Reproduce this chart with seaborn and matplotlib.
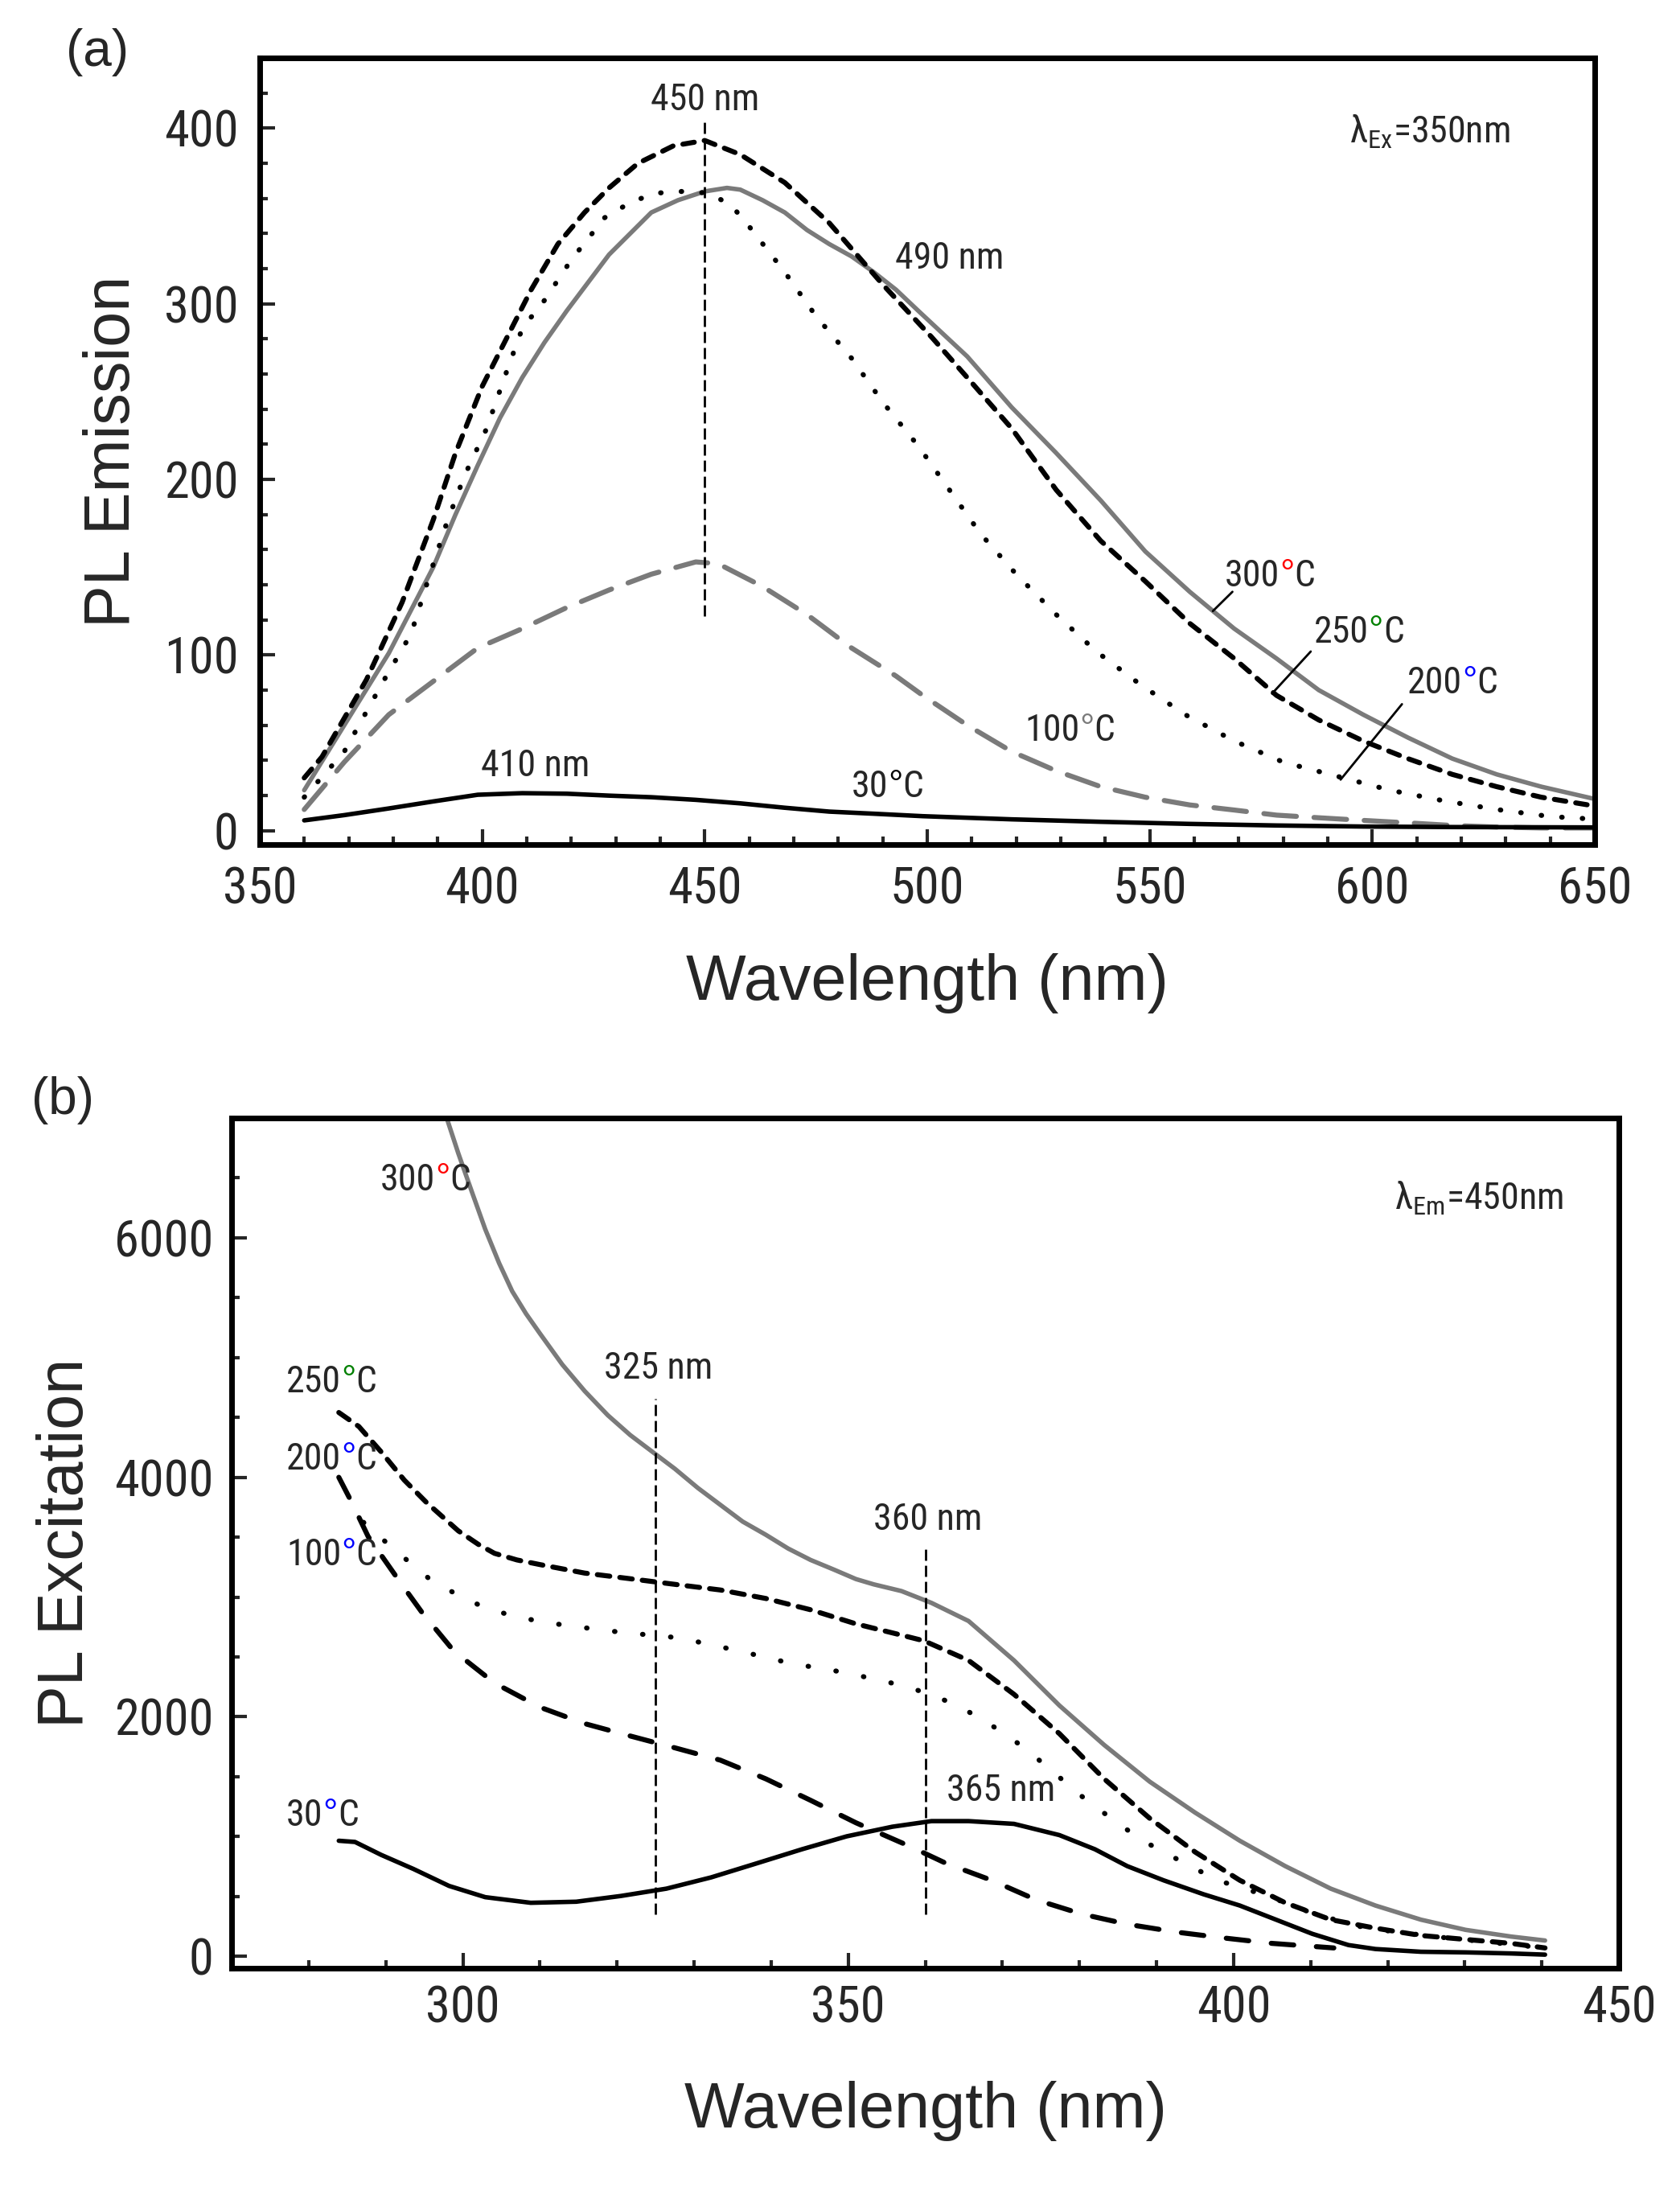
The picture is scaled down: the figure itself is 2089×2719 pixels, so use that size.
import os
import numpy as np
import matplotlib
matplotlib.use("Agg")
import matplotlib.pyplot as plt
from matplotlib import font_manager as fm
from matplotlib.textpath import text_to_path
import seaborn as sns

# ---- panel (a): PL emission, excitation 350 nm ----
em300_x = [360, 369, 379, 389, 394, 399, 404, 409, 414, 419, 428.5, 438, 444, 450, 455, 458,
           463, 468, 473, 478, 483, 488, 493, 498, 509, 519, 529, 539, 549, 559, 569,
           578.5, 588, 598, 608, 618, 628, 638, 650]
em300_y = [23, 60, 101, 150, 180, 208, 235, 258, 278, 296, 328, 352, 359, 364, 366, 365,
           359, 352, 342, 334, 327, 318, 308, 296, 270, 241, 215, 188, 159, 136, 115,
           98, 80, 66, 53, 41, 32, 25, 18]

em250_x = [360, 364, 374, 382, 389, 394, 400, 406, 411, 417, 423, 428.5, 435, 443, 450, 458,
           468, 478, 490, 501, 509, 519, 529, 539, 549, 559, 569, 578.5, 588, 598, 608, 618,
           628, 638, 650]
em250_y = [30, 42, 86, 130, 177, 215, 253, 283, 308, 334, 352, 366, 380, 390, 393, 385,
           369, 346, 311, 281, 258, 229, 194, 165, 142, 118, 98, 77, 63, 51, 41, 32,
           25, 19, 14]

em200_x = [360, 369, 378, 384, 388, 392, 396, 401, 405, 409, 414, 420, 427.5, 433.5, 439, 445,
           451, 456, 460, 464, 468, 475, 483, 490, 498, 505, 512, 520, 529, 538, 548, 558,
           569, 580, 592, 604, 616, 628, 640, 650]
em200_y = [19, 45, 86, 112, 144, 175, 202, 229, 258, 286, 302, 325, 349, 358, 363, 364,
           363, 356, 344, 331, 318, 293, 269, 244, 219, 194, 169, 146, 123, 102, 83, 66,
           51, 39, 31, 23, 17, 12, 8, 6.5]

em100_x = [360, 369, 379, 389, 399, 409, 419, 428.5, 438, 448, 453, 463, 473, 483, 493, 499,
           509, 519, 529, 539, 549, 559, 569, 578.5, 588, 598, 608, 618, 628, 638, 650]
em100_y = [12, 39, 66, 85, 104, 115, 127, 137, 146, 153, 152, 139, 123, 104, 88, 77,
           60, 45, 34, 25, 19, 14.6, 11.7, 8.8, 7.3, 5.8, 4.4, 2.9, 2, 1.5, 1.5]

em30_x = [360, 369, 379, 389, 399, 409, 419, 428.5, 438, 448, 458, 468, 478, 488, 499, 519,
          539, 559, 578.5, 598, 618, 650]
em30_y = [5.8, 8.8, 12.6, 16.6, 20.4, 21.3, 21, 19.9, 19, 17.5, 15.5, 13, 10.8, 9.6, 8.2, 6.4,
          5, 3.8, 2.9, 2.3, 2, 1.8]

# ---- panel (b): PL excitation, emission 450 nm ----
ex300_x = [297.9, 299.4, 301.2, 302.9, 304.7, 306.4, 308.2, 310, 312.9, 315.8, 318.8, 321.7,
           324.6, 327.5, 330.5, 333.4, 336.3, 339.3, 342.2, 345.1, 348.1, 351, 353.3, 356.9,
           360.8, 365.6, 371.5, 377.4, 383.2, 389.1, 395, 400.8, 406.7, 412.6, 418.4, 424.3,
           430.1, 436, 440.4]
ex300_y = [7000, 6706, 6377, 6071, 5788, 5553, 5365, 5200, 4941, 4720, 4518, 4353,
           4212, 4071, 3910, 3770, 3630, 3520, 3405, 3310, 3230, 3150, 3106, 3050,
           2951, 2800, 2471, 2094, 1765, 1459, 1200, 965, 753, 565, 424, 306,
           221, 165, 132]

ex250_x = [283.9, 286.5, 289.4, 292.4, 295.3, 299.4, 302, 304.1, 307, 310, 315.8, 321.7,
           327.5, 333.4, 339.3, 345.1, 351, 356.9, 359.8, 365.6, 371.5, 377.4, 383.2, 389.1,
           395, 400.8, 406.7, 412.6, 418.4, 424.3, 430.1, 436, 440.4]
ex250_y = [4541, 4424, 4212, 3976, 3788, 3553, 3440, 3365, 3310, 3271, 3200, 3153,
           3106, 3059, 2988, 2894, 2776, 2682, 2635, 2471, 2188, 1859, 1482, 1153,
           871, 635, 447, 306, 235, 174, 141, 108, 70]

ex200_x = [283.9, 285.6, 287.7, 291.8, 294.7, 298.8, 304.1, 310, 315.8, 321.7, 327.5, 333.4,
           339.3, 345.1, 351, 358, 362.7, 368.6, 374.4, 380.3, 386.2, 392.6, 398.5, 405, 413]
ex200_y = [4000, 3788, 3506, 3129, 2871, 2551, 2282, 2080, 1943, 1840, 1741, 1638,
           1482, 1303, 1115, 918, 776, 635, 471, 353, 268, 202, 155, 108, 70]

ex100_x = [287.1, 290, 293, 295.9, 299.1, 302.6, 306.2, 309.7, 313.5, 320.5, 328.1, 335.5,
           342.5, 349.8, 357.2, 360.6, 364.2, 367.4, 370.3, 373.3, 375.9, 378.5, 381.5, 384.7,
           387.6, 390.9, 394.4, 397.9, 401.4, 404.9, 408.4, 412, 415.5, 419, 426, 433.1, 440.4]
ex100_y = [3624, 3459, 3294, 3139, 3026, 2918, 2847, 2800, 2762, 2706, 2659, 2555,
           2447, 2367, 2259, 2188, 2094, 1976, 1859, 1718, 1576, 1435, 1271, 1129,
           988, 871, 753, 635, 565, 494, 400, 329, 259, 221, 165, 118, 70]

ex30_x = [283.9, 286, 289.4, 293.6, 298.2, 302.9, 308.8, 314.7, 320.5, 326.4, 332.2, 338.1,
          344, 349.8, 355.7, 360.8, 365.6, 371.5, 377.4, 382, 386.2, 390.9, 396.1, 400.8,
          405.5, 410.2, 414.9, 418.4, 424.3, 430.1, 436, 440.4]
ex30_y = [965, 955, 847, 729, 588, 494, 447, 456, 504, 565, 659, 776,
          894, 1002, 1082, 1129, 1129, 1106, 1012, 894, 753, 635, 518, 424,
          306, 188, 94, 61, 38, 33, 24, 14]

GREY = "#7a7a7a"
FS_LAB = 57

sns.set_style("ticks")
plt.rcParams["font.family"] = ["Liberation Sans", "DejaVu Sans"]


def find_narrow():
    # the original uses an Arial Narrow look; take a narrow/condensed face if one exists
    prefs = ["liberationsansnarrow-regular", "liberationsansnarrow", "arialnarrow", "arialn.",
             "robotocondensed-regular", "notosans-condensed.", "opensans_condensed-regular",
             "dejavusanscondensed."]
    files = [f.fname for f in fm.fontManager.ttflist]
    for p in prefs:
        for fn in files:
            base = os.path.basename(fn).lower().replace(" ", "")
            if base.startswith(p):
                return fn
    return None


NARROW_FILE = find_narrow()
if NARROW_FILE:
    FS_TICK, FS_ANN = 45, 33
else:
    FS_TICK, FS_ANN = 41, 28


def fprop(size):
    if NARROW_FILE:
        return fm.FontProperties(fname=NARROW_FILE, size=size)
    return fm.FontProperties(family="Liberation Sans", size=size)


ANN = fprop(FS_ANN)
RING = fm.FontProperties(family="Liberation Sans", size=FS_ANN)

fig = plt.figure(figsize=(20.89, 27.19), dpi=100)
ax1 = fig.add_axes([0.1546, 0.6138, 0.7946, 0.3597])
ax2 = fig.add_axes([0.1379, 0.1000, 0.8258, 0.3888])


def curve(ax, x, y, color, style, lw=4.5):
    sns.lineplot(x=x, y=y, ax=ax, color=color, lw=lw, linestyle=style,
                 sort=False, estimator=None, dash_capstyle="round")


def note(ax, x, y, s):
    ax.text(x, y, s, ha="center", va="center", fontproperties=ANN)


def temp_label(ax, x, y, num, ring, ha="center"):
    w_num = text_to_path.get_text_width_height_descent(num + "C", ANN, ismath=False)[0]
    w_ring = text_to_path.get_text_width_height_descent("°", RING, ismath=False)[0]
    off = -(w_num + w_ring) / 2 if ha == "center" else 0
    a = ax.annotate(num, xy=(x, y), xytext=(off, 0), textcoords="offset points",
                    ha="left", va="center", fontproperties=ANN)
    b = ax.annotate("°", xy=(1, 0), xycoords=a, ha="left", va="bottom", color=ring,
                    fontproperties=RING)
    ax.annotate("C", xy=(1, 0), xycoords=b, ha="left", va="bottom", fontproperties=ANN)


def style_axes(ax, ylab, xlab_y, ylab_x):
    for sp in ax.spines.values():
        sp.set_visible(True)
        sp.set_linewidth(5)
        sp.set_color("black")
    ax.tick_params(which="both", direction="in", top=False, right=False, width=3)
    ax.tick_params(which="major", length=14)
    ax.tick_params(which="minor", length=7)
    for lab in ax.get_xticklabels() + ax.get_yticklabels():
        lab.set_fontproperties(fprop(FS_TICK))
    ax.set_xlabel("Wavelength (nm)", fontsize=FS_LAB)
    ax.set_ylabel(ylab, fontsize=FS_LAB)
    ax.xaxis.set_label_coords(0.5, xlab_y)
    ax.xaxis.label.set_va("center")
    ax.yaxis.set_label_coords(ylab_x, 0.5)
    ax.yaxis.label.set_va("center")


vdash = (0, (5, 2.2))

# ---- draw panel (a) ----
curve(ax1, em300_x, em300_y, GREY, "-", 4)
curve(ax1, em250_x, em250_y, "black", (0, (2.3, 2.0)))
curve(ax1, em200_x, em200_y, "black", (0, (0.1, 4.0)))
curve(ax1, em100_x, em100_y, GREY, (0, (6.5, 3.5)))
curve(ax1, em30_x, em30_y, "black", "-", 4)

ax1.plot([450, 450], [122, 405], color="black", lw=2, linestyle=vdash)
note(ax1, 450, 416, "450 nm")
note(ax1, 505, 326, "490 nm")
note(ax1, 412, 37, "410 nm")
temp_label(ax1, 491, 25, "30", "black")
temp_label(ax1, 532, 57, "100", GREY)
temp_label(ax1, 577, 145, "300", "red")
temp_label(ax1, 597, 113, "250", "green")
temp_label(ax1, 618, 84, "200", "blue")
ax1.plot([568.6, 564.2], [136, 125], color="black", lw=2)
ax1.plot([586.2, 577.5], [102, 78], color="black", lw=2)
ax1.plot([606.7, 592.9], [72, 29], color="black", lw=2)
note(ax1, 613, 398, "$\\mathregular{λ_{Ex}}$=350nm")

ax1.set_xlim(350, 650)
ax1.set_ylim(-8, 440)
ax1.set_xticks(np.arange(350, 651, 50))
ax1.set_xticks(np.arange(350, 651, 10), minor=True)
ax1.set_yticks(np.arange(0, 401, 100))
ax1.set_yticks(np.arange(0, 441, 20), minor=True)
ax1.tick_params(axis="x", pad=19)
ax1.tick_params(axis="y", pad=19)
style_axes(ax1, "PL Emission", -0.176, -0.11)

# ---- draw panel (b) ----
curve(ax2, ex300_x, ex300_y, GREY, "-", 4)
curve(ax2, ex250_x, ex250_y, "black", (0, (2.5, 2.0)))
curve(ax2, ex200_x, ex200_y, "black", (0, (4.5, 4.5)))
curve(ax2, ex100_x, ex100_y, "black", (0, (0.1, 5.5)))
curve(ax2, ex30_x, ex30_y, "black", "-", 4)

ax2.plot([325, 325], [353, 4659], color="black", lw=2, linestyle=vdash)
ax2.plot([360, 360], [353, 3435], color="black", lw=2, linestyle=vdash)
note(ax2, 325.4, 4908, "325 nm")
note(ax2, 360.3, 3647, "360 nm")
note(ax2, 369.8, 1388, "365 nm")
temp_label(ax2, 295.1, 6480, "300", "red")
temp_label(ax2, 277.1, 4800, "250", "green", ha="left")
temp_label(ax2, 277.1, 4155, "200", "blue", ha="left")
temp_label(ax2, 277.1, 3350, "100", "blue", ha="left")
temp_label(ax2, 277.1, 1176, "30", "blue", ha="left")
note(ax2, 431.8, 6329, "$\\mathregular{λ_{Em}}$=450nm")

ax2.set_xlim(270, 450)
ax2.set_ylim(-100, 7000)
ax2.set_xticks(np.arange(300, 451, 50))
ax2.set_xticks(np.arange(280, 451, 10), minor=True)
ax2.set_yticks(np.arange(0, 6001, 2000))
ax2.set_yticks(np.arange(0, 7001, 500), minor=True)
ax2.tick_params(axis="x", pad=15)
ax2.tick_params(axis="y", pad=16)
style_axes(ax2, "PL Excitation", -0.1675, -0.119)

fig.text(121 / 2089, 1 - 65 / 2719, "(a)", ha="center", va="center", fontsize=46)
fig.text(78 / 2089, 1 - 1368 / 2719, "(b)", ha="center", va="center", fontsize=46)

fig.savefig("out.png", dpi=100, facecolor="white")
